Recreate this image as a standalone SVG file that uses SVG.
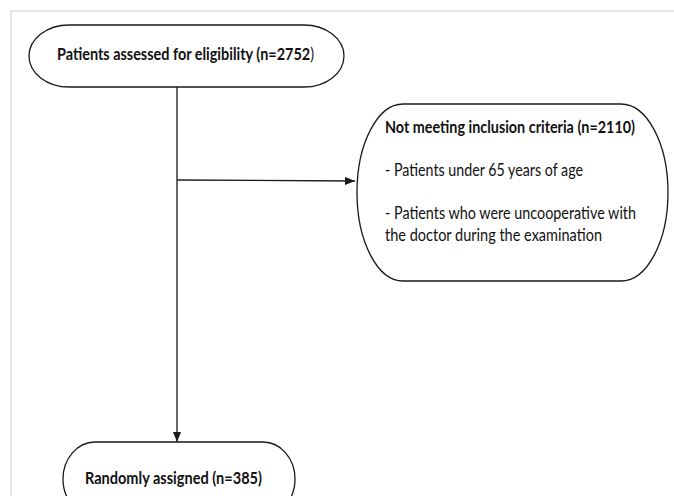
<svg xmlns="http://www.w3.org/2000/svg" width="674" height="496" viewBox="0 0 674 496">
<style>
.node{fill:#fff;stroke:#1a1a1a;stroke-width:1.3}
.conn{stroke:#1a1a1a;stroke-width:1.3;fill:none}
text{font-family:Lato,"Liberation Sans",sans-serif;font-size:17px;fill:#111}
.b{font-weight:bold}
.n{font-weight:normal}
.frame{stroke:#e6e6e6;stroke-width:2;fill:none}
</style>
<defs>
<marker id="arr" markerUnits="userSpaceOnUse" markerWidth="10" markerHeight="8" refX="10" refY="4" orient="auto">
<path d="M0,0 L10,4 L0,8 Z" fill="#1a1a1a"/>
</marker>
</defs>
<rect width="674" height="496" fill="#fff"/>
<path class="frame" d="M11 496 V11 H674"/>
<g id="connectors">
<line class="conn" x1="177" y1="87" x2="177" y2="442" marker-end="url(#arr)"/>
<line class="conn" x1="177" y1="180" x2="355" y2="181" marker-end="url(#arr)"/>
</g>
<g id="node-assessed">
<path class="node" d="M69 25 H304 A40 31 0 0 1 304 87 H69 A40 31 0 0 1 69 25 Z"/>
<text class="b" x="57" y="60" textLength="257" lengthAdjust="spacingAndGlyphs">Patients assessed for eligibility (n=2752<tspan class="n">)</tspan></text>
</g>
<g id="node-excluded">
<path class="node" d="M403 104 H621 A47 88.5 0 0 1 621 281 H403 A46 88.5 0 0 1 403 104 Z"/>
<text class="b" x="385" y="133" textLength="250" lengthAdjust="spacingAndGlyphs">Not meeting inclusion criteria (n=2110)</text>
<text x="385" y="176" textLength="198" lengthAdjust="spacingAndGlyphs">- Patients under 65 years of age</text>
<text x="385" y="219" textLength="251" lengthAdjust="spacingAndGlyphs">- Patients who were uncooperative with</text>
<text x="385" y="241" textLength="217" lengthAdjust="spacingAndGlyphs">the doctor during the examination</text>
</g>
<g id="node-randomized">
<path class="node" d="M95 442 H263 A32 37 0 0 1 263 516 H95 A32 37 0 0 1 95 442 Z"/>
<text class="b" x="85" y="484" textLength="177" lengthAdjust="spacingAndGlyphs">Randomly assigned (n=385)</text>
</g>
</svg>
